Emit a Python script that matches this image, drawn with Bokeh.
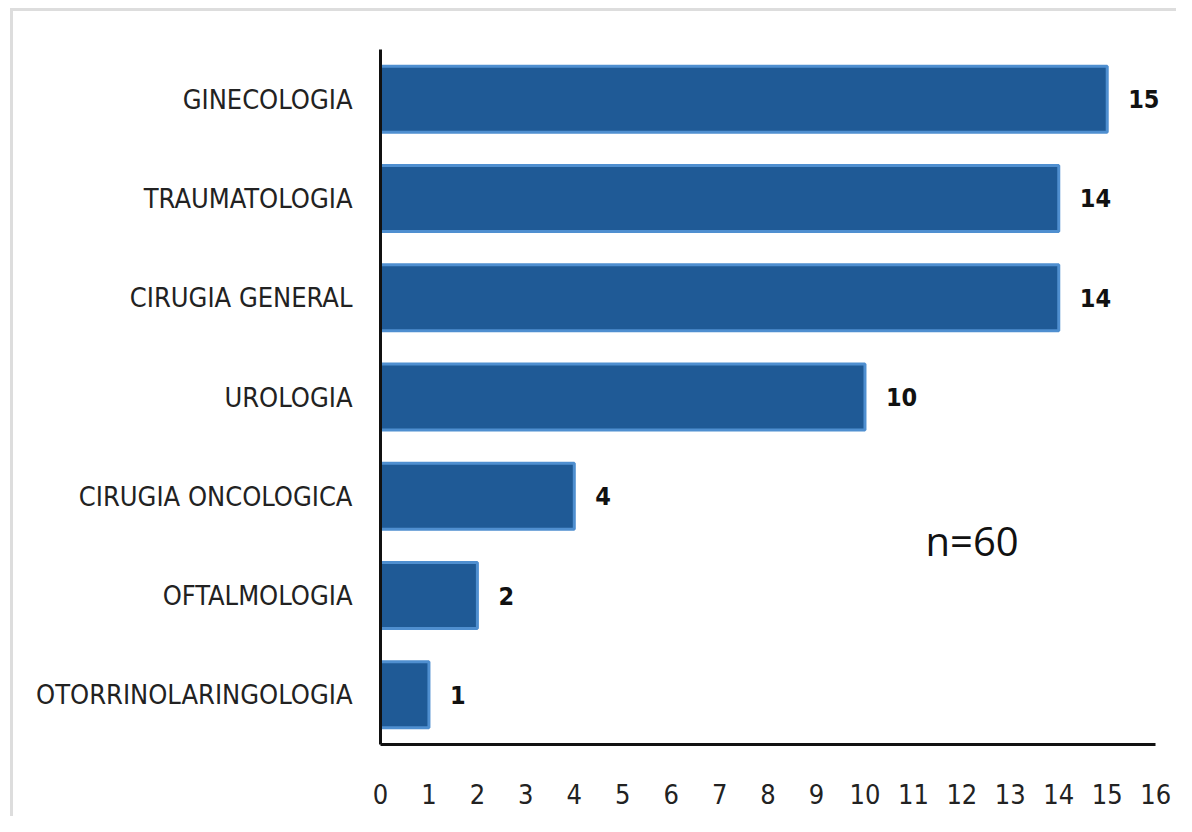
from bokeh.plotting import figure
from bokeh.models import ColumnDataSource, FixedTicker, LabelSet, Label, Range1d, FactorRange
from bokeh.core.properties import value
from bokeh.embed import file_html
from bokeh.resources import INLINE

categories = ["GINECOLOGIA", "TRAUMATOLOGIA", "CIRUGIA GENERAL", "UROLOGIA",
              "CIRUGIA ONCOLOGICA", "OFTALMOLOGIA", "OTORRINOLARINGOLOGIA"]
values = [15, 14, 14, 10, 4, 2, 1]
x_ticks = list(range(0, 17))
note = "n=60"

NARROW = "DejaVu Sans Condensed"

factors = list(reversed(categories))
src = ColumnDataSource(dict(cat=categories, val=values, lab=[str(v) for v in values]))

p = figure(width=1176, height=816, y_range=FactorRange(*factors, range_padding=0),
           x_range=Range1d(0, 16.43), output_backend="svg", toolbar_location=None,
           min_border_left=380, min_border_right=0, min_border_top=49, min_border_bottom=72)

p.hbar(y="cat", right="val", left=0, height=0.665, source=src,
       fill_color="#1F5A96", line_color="#4F8FD0", line_width=3)

labels = LabelSet(x="val", y="cat", text="lab", source=src, x_offset=21,
                  text_align="left", text_baseline="middle",
                  text_font=value(NARROW), text_font_size=value("25px"),
                  text_font_style=value("bold"), text_color=value("#111111"))
p.add_layout(labels)

p.add_layout(Label(x=11.25, y=2.05, text=note, text_font="Open Sans",
                   text_font_size="40px", text_baseline="middle", text_align="left",
                   text_color="#111111"))

p.border_fill_color = None
p.background_fill_color = "white"
p.styles = {"background": "linear-gradient(#dddddd,#dddddd) 10px 8px / 3px 100% no-repeat, "
                          "linear-gradient(#dddddd,#dddddd) 10px 8px / 100% 3px no-repeat, white"}

p.xgrid.visible = False
p.ygrid.visible = False
p.outline_line_color = None

p.xaxis.ticker = FixedTicker(ticks=x_ticks)
p.xaxis.bounds = (0, 16)
for ax in (p.xaxis, p.yaxis):
    ax.axis_line_color = "#111111"
    ax.axis_line_width = 3
    ax.major_tick_line_color = None
    ax.minor_tick_line_color = None
    ax.major_label_text_font = NARROW
    ax.major_label_text_font_size = "27px"
    ax.major_label_text_color = "#222222"
p.xaxis.major_label_standoff = 33
p.yaxis.major_label_standoff = 22

open("out.html", "w").write(file_html(p, INLINE))
